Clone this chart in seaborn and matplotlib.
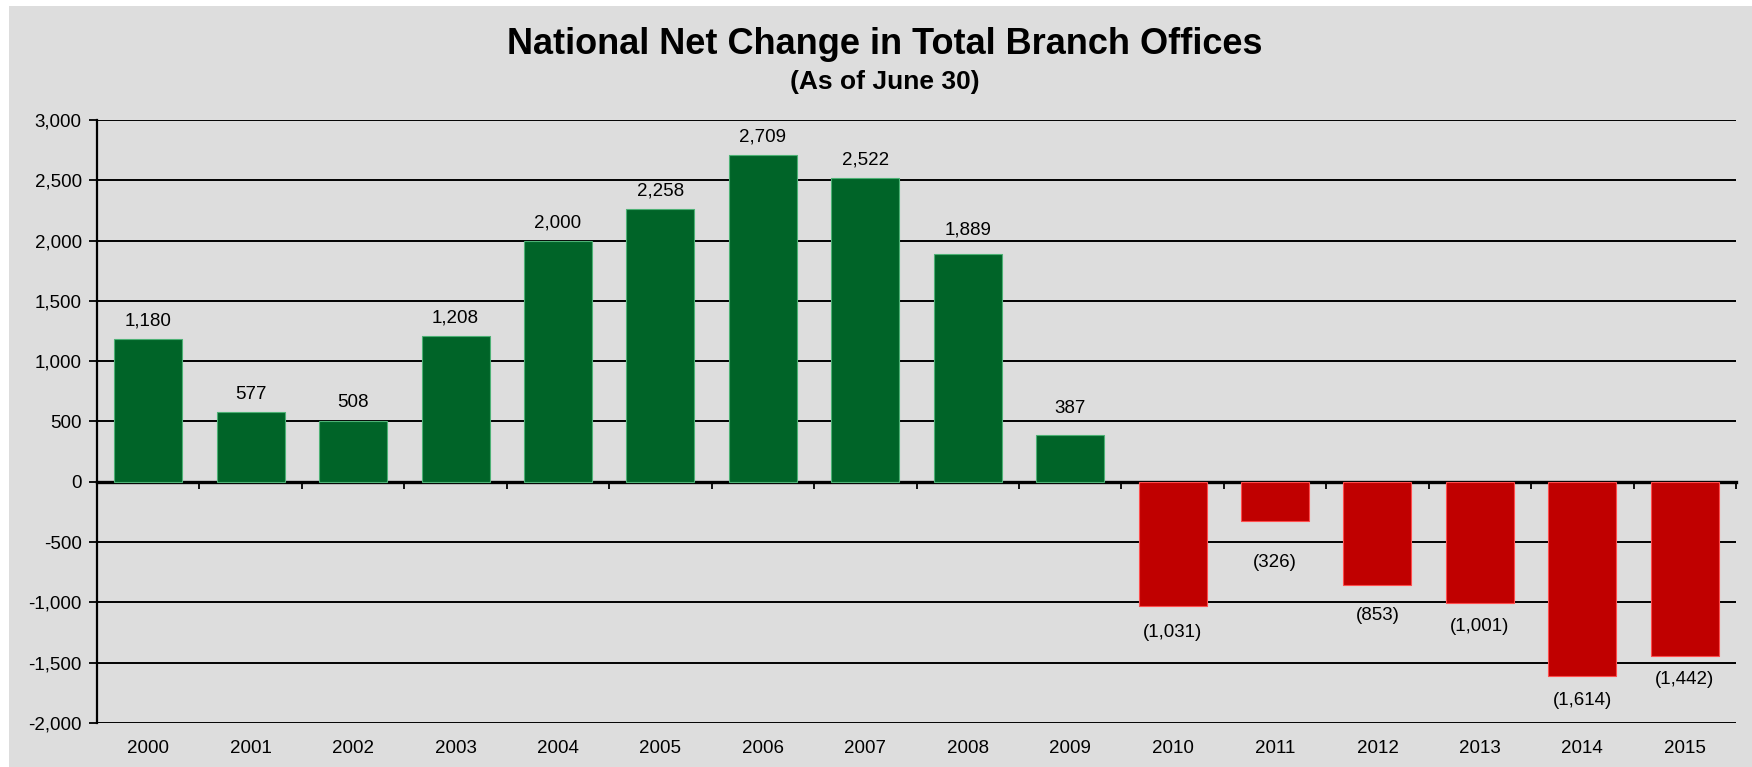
import matplotlib
matplotlib.use("Agg")
import matplotlib.pyplot as plt
import matplotlib.ticker as mticker
from matplotlib.patches import Rectangle
import seaborn as sns
import pandas as pd
import numpy as np

years = ["2000", "2001", "2002", "2003", "2004", "2005", "2006", "2007",
         "2008", "2009", "2010", "2011", "2012", "2013", "2014", "2015"]
net_change = [1180, 577, 508, 1208, 2000, 2258, 2709, 2522,
              1889, 387, -1031, -326, -853, -1001, -1614, -1442]
y_ticks = [-2000, -1500, -1000, -500, 0, 500, 1000, 1500, 2000, 2500, 3000]

title = "National Net Change in Total Branch Offices"
subtitle = "(As of June 30)"

GREEN = "#006428"
RED = "#c00000"
BG = "#dddddd"

# extra label distance (pixels) where the original moved labels off gridlines
label_nudge = {"2008": 6, "2009": 9, "2010": 2, "2011": 17, "2012": 7}

sns.set_theme(style="white")
plt.rcParams["font.family"] = ["Liberation Sans", "DejaVu Sans"]

df = pd.DataFrame({"year": years, "value": net_change})
df["sign"] = np.where(df["value"] >= 0, "pos", "neg")

W, H = 1752, 767
fig = plt.figure(figsize=(W / 100, H / 100), dpi=100, facecolor="white")
fig.patches.append(Rectangle((9 / W, 0), 1 - 9 / W, 1 - 6 / H,
                             transform=fig.transFigure, facecolor=BG,
                             edgecolor="none", zorder=-10))
ax = fig.add_axes([97 / W, 1 - 723 / H, (1736 - 97) / W, (723 - 120) / H])
ax.set_facecolor(BG)

sns.barplot(data=df, x="year", y="value", hue="sign", order=years,
            palette={"pos": GREEN, "neg": RED}, dodge=False, width=0.664,
            saturation=1, legend=False, ax=ax, linewidth=0.8, zorder=3)
for p in ax.patches:
    fc = p.get_facecolor()
    p.set_edgecolor(tuple(min(1, c + 0.3) for c in fc[:3]))

ax.set_ylim(-2000, 3000)
ax.set_xlim(-0.5, len(years) - 0.5)
ax.set_yticks(y_ticks)
ax.yaxis.set_major_formatter(mticker.FuncFormatter(lambda v, _: f"{int(v):,}"))
ax.grid(axis="y", color="black", linewidth=1.4, zorder=0)
ax.set_axisbelow(True)
ax.set_xlabel("")
ax.set_ylabel("")

for s in ["top", "right", "bottom"]:
    ax.spines[s].set_visible(False)
ax.spines["left"].set_color("black")
ax.spines["left"].set_linewidth(1.6)

ax.tick_params(axis="y", which="major", direction="out", length=6,
               width=1.3, color="black", labelsize=13.5, pad=5,
               labelcolor="black", left=True)
ax.tick_params(axis="x", which="major", length=0, labelsize=13.5,
               pad=12, labelcolor="black")

# zero axis line with tick marks between categories
sec = ax.secondary_xaxis(0, transform=ax.transData)
sec.spines["bottom"].set_linewidth(2.4)
sec.spines["bottom"].set_color("black")
sec.set_xticks(np.arange(len(years) + 1) - 0.5)
sec.set_xticklabels([])
sec.tick_params(axis="x", direction="out", length=5, width=1.3,
                color="black")

def fmt(v):
    return f"{v:,}" if v >= 0 else f"({abs(v):,})"

for i, (yr, v) in enumerate(zip(years, net_change)):
    extra = label_nudge.get(yr, 0)
    off = (18 + extra) if v >= 0 else -(24 + extra)
    ax.annotate(fmt(v), xy=(i, v), xytext=(0, off),
                textcoords="offset pixels", ha="center", va="center",
                fontsize=13.5, color="black", zorder=5)

fig.text(885 / W, 1 - 44 / H, title, ha="center", va="center",
         fontsize=26, fontweight="bold", color="black")
fig.text(885 / W, 1 - 82 / H, subtitle, ha="center", va="center",
         fontsize=19, fontweight="bold", color="black")

fig.savefig("out.png", dpi=100, facecolor=fig.get_facecolor())
